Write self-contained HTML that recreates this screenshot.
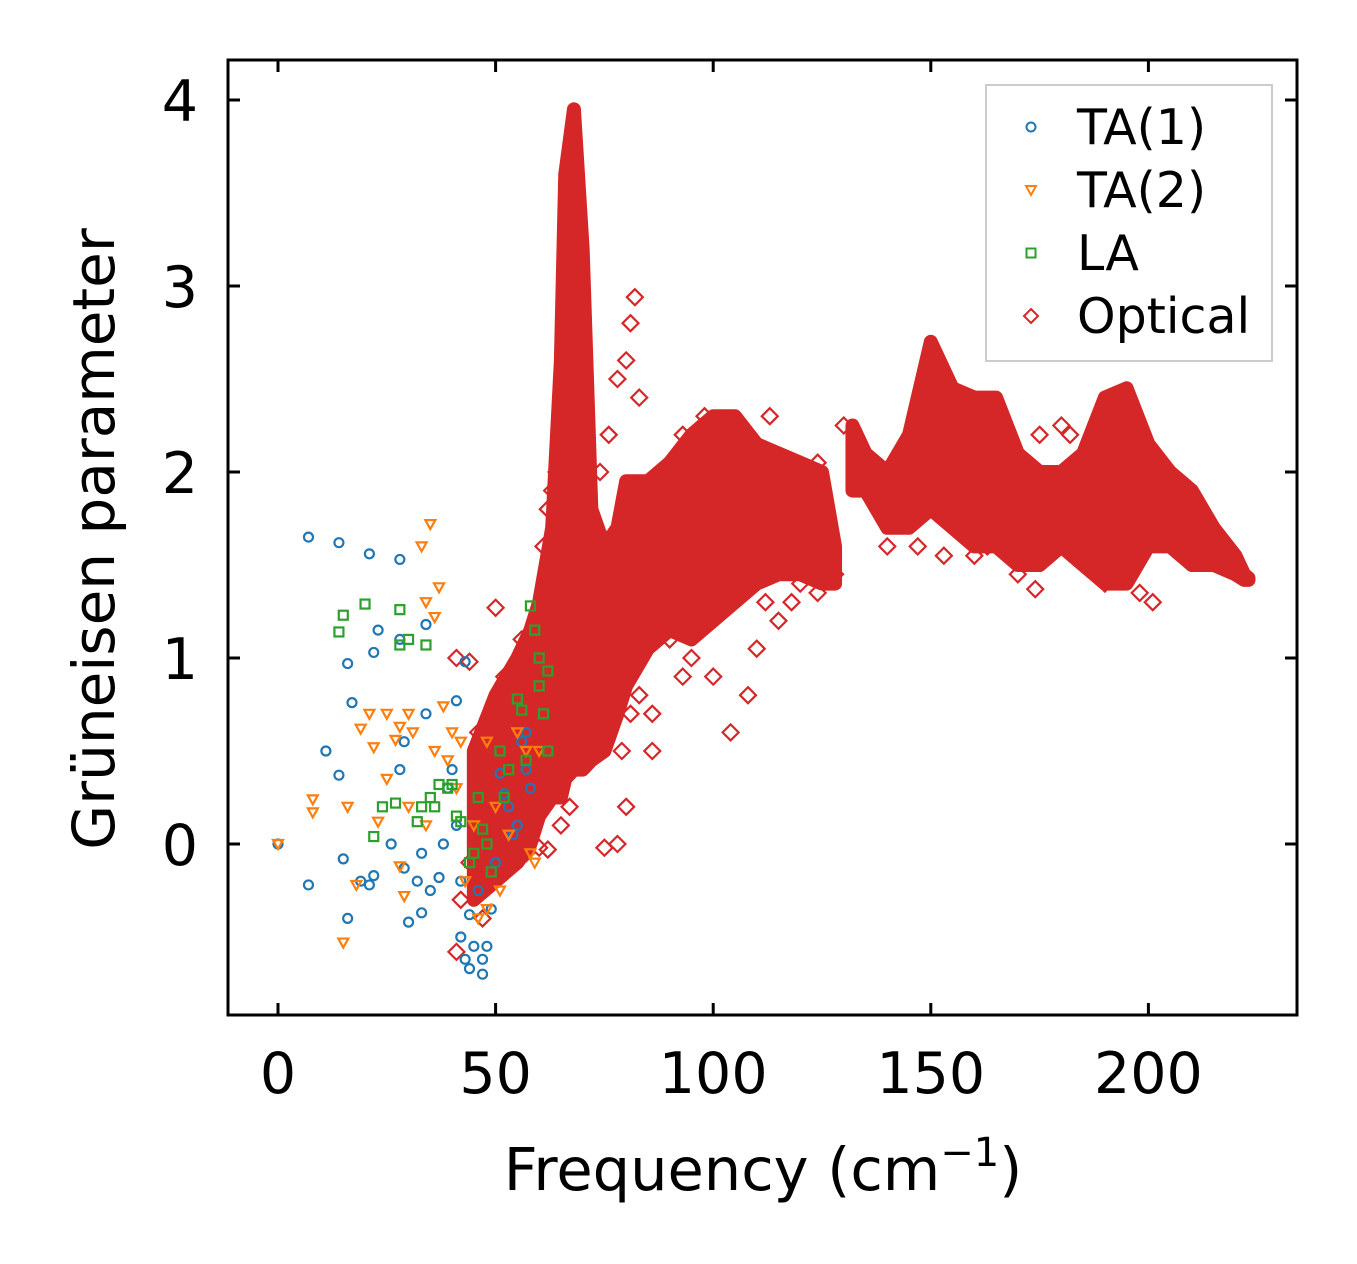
<!DOCTYPE html>
<html><head><meta charset="utf-8"><style>
body{margin:0;background:#fff;}
svg{display:block;font-family:"DejaVu Sans","Liberation Sans",sans-serif;}
</style></head><body>
<svg id="chart" width="1357" height="1264" viewBox="0 0 1357 1264">
<g id="marks"></g>
<rect x="228" y="60" width="1069" height="955" fill="none" stroke="#000" stroke-width="3"/>
<g id="axes"></g>
<text x="763" y="1190" font-size="59" text-anchor="middle">Frequency (cm<tspan dy="-24" font-size="40">−1</tspan><tspan dy="24">)</tspan></text>
<text transform="translate(114,539) rotate(-90)" font-size="58" text-anchor="middle">Grüneisen parameter</text>
<g>
<rect x="986" y="85" width="286" height="276" fill="#fff" stroke="#ccc" stroke-width="2"/>
<circle cx="1031" cy="127" r="4.5" fill="none" stroke="#1f77b4" stroke-width="2"/>
<text x="1077" y="144" font-size="49">TA(1)</text>
<path d="M1026,186 L1036,186 L1031,195 Z" fill="none" stroke="#ff7f0e" stroke-width="2"/>
<text x="1077" y="207" font-size="49">TA(2)</text>
<rect x="1026.5" y="248.5" width="9" height="9" fill="none" stroke="#2ca02c" stroke-width="2"/>
<text x="1077" y="270" font-size="49">LA</text>
<path d="M1031,309 L1038,316 L1031,323 L1024,316 Z" fill="none" stroke="#d62728" stroke-width="2"/>
<text x="1077" y="333" font-size="49">Optical</text>
</g>
</svg>
<script>
const xTicks=[0,50,100,150,200];
const yTicks=[0,1,2,3,4];
// dense optical band envelope (two segments)
const bandSeg=[0,0,0,0,0,0,0,0,0,0,0,0,0,0,0,0,0,0,0,0,0,0,0,0,1,1,1,1,1,1,1,1,1,1,1,1,1,1,1,1,1,1,1,1,1];
const bandFreq=[45,50,55,58,60,63,65,66,68,70,72,75,78,80,85,90,95,100,105,110,115,120,125,128,132,135,140,145,150,155,160,165,170,175,180,185,190,195,200,205,210,215,220,222,223];
const bandUpper=[0.5,0.8,1.0,1.15,1.3,1.7,2.6,3.6,3.95,3.2,1.8,1.6,1.7,1.95,1.95,2.05,2.2,2.3,2.3,2.15,2.1,2.05,2.0,1.6,2.25,2.1,2.0,2.2,2.7,2.45,2.4,2.4,2.1,2.0,2.0,2.1,2.4,2.45,2.15,2.0,1.9,1.7,1.55,1.45,1.43];
const bandLower=[-0.3,-0.2,-0.1,0.0,0.15,0.25,0.25,0.35,0.4,0.4,0.45,0.5,0.7,0.85,1.05,1.15,1.1,1.2,1.3,1.4,1.45,1.45,1.4,1.4,1.9,1.9,1.7,1.7,1.8,1.7,1.6,1.6,1.5,1.5,1.6,1.5,1.4,1.4,1.6,1.6,1.5,1.5,1.45,1.42,1.42];
const optX=[41,42,44,41,46,50,53,57,60,62,65,67,63,62,61,80,78,75,79,81,83,86,86,82,81,80,78,83,76,74,90,93,95,100,104,108,110,112,115,118,120,124,140,147,153,160,163,165,174,170,175,180,182,190,195,198,201,195,205,93,98,130,128,88,95,113,124,48,52,56,44,47,54,59,64,69];
const optY=[-0.58,-0.3,0.98,1.0,0.6,1.27,0.03,-0.05,-0.02,-0.03,0.1,0.2,1.9,1.8,1.6,0.2,0.0,-0.02,0.5,0.7,0.8,0.5,0.7,2.94,2.8,2.6,2.5,2.4,2.2,2.0,1.1,0.9,1.0,0.9,0.6,0.8,1.05,1.3,1.2,1.3,1.4,1.35,1.6,1.6,1.55,1.55,1.6,1.7,1.37,1.45,2.2,2.25,2.2,1.4,1.45,1.35,1.3,2.0,1.8,2.2,2.3,2.25,1.45,1.5,2.15,2.3,2.05,0.5,0.9,1.1,-0.1,-0.4,0.2,0.5,2.0,2.3];
const ta1X=[0,7,7,14,15,16,14,11,16,17,19,21,21,22,23,22,26,28,28,28,29,29,30,32,33,34,34,35,37,40,41,43,42,43,44,45,47,48,49,50,51,53,54,56,57,58,42,44,46,47,52,55,57,39,41,38,33];
const ta1Y=[0,1.65,-0.22,1.62,-0.08,-0.4,0.37,0.5,0.97,0.76,-0.2,-0.22,1.56,1.03,1.15,-0.17,0,1.53,1.1,0.4,0.55,-0.13,-0.42,-0.2,-0.37,1.18,0.7,-0.25,-0.18,0.4,0.77,0.98,-0.5,-0.62,-0.67,-0.55,-0.7,-0.55,-0.35,-0.1,0.38,0.2,0.05,0.55,0.4,0.3,-0.2,-0.38,-0.25,-0.62,0.27,0.1,0.6,0.3,0.1,0,-0.05];
const ta2X=[0,8,8,15,16,18,19,21,22,23,25,25,27,28,28,29,30,31,33,35,34,36,37,36,38,39,41,42,43,45,46,48,48,50,51,53,55,57,58,59,60,30,34,40];
const ta2Y=[0,0.24,0.17,-0.53,0.2,-0.22,0.62,0.7,0.52,0.12,0.7,0.35,0.56,0.63,-0.12,-0.28,0.7,0.6,1.6,1.72,1.3,1.22,1.38,0.5,0.74,0.45,0.3,0.55,-0.2,0.1,-0.4,0.55,-0.35,0.2,-0.25,0.05,0.6,0.5,-0.05,-0.1,0.5,0.2,0.1,0.6];
const laX=[14,15,20,22,24,27,28,28,30,32,34,35,36,37,39,40,41,42,44,46,47,48,49,51,52,53,55,56,57,58,59,60,60,61,62,62,33,45];
const laY=[1.14,1.23,1.29,0.04,0.2,0.22,1.07,1.26,1.1,0.12,1.07,0.25,0.2,0.32,0.3,0.32,0.15,0.12,-0.1,0.25,0.08,0.0,-0.15,0.5,0.25,0.4,0.78,0.72,0.45,1.28,1.15,1.0,0.85,0.7,0.93,0.5,0.2,-0.05];

const NS='http://www.w3.org/2000/svg';
const xs=v=>278+v*4.352;
const ys=v=>844-v*186;
const marks=document.getElementById('marks');
const axes=document.getElementById('axes');
function mk(tag,attrs,parent){const e=document.createElementNS(NS,tag);for(const k in attrs)e.setAttribute(k,attrs[k]);parent.appendChild(e);return e;}

[0,1].forEach(s=>{
  const idx=bandFreq.map((f,i)=>i).filter(i=>bandSeg[i]===s);
  const up=idx.map(i=>xs(bandFreq[i])+','+ys(bandUpper[i]));
  const lo=idx.slice().reverse().map(i=>xs(bandFreq[i])+','+ys(bandLower[i]));
  const p=mk('polygon',{points:up.concat(lo).join(' '),fill:'#d62728',stroke:'#d62728','stroke-width':14,'stroke-linejoin':'round'},marks);
  
  
});
optX.forEach((x,i)=>{
  const cx=xs(x),cy=ys(optY[i]);
  const p=mk('path',{d:`M${cx},${cy-8} L${cx+8},${cy} L${cx},${cy+8} L${cx-8},${cy} Z`,fill:'none',stroke:'#d62728','stroke-width':2.2},marks);
  
  
});
ta1X.forEach((x,i)=>{
  const c=mk('circle',{cx:xs(x),cy:ys(ta1Y[i]),r:4.5,fill:'none',stroke:'#1f77b4','stroke-width':2.2},marks);
  
  
});
ta2X.forEach((x,i)=>{
  const cx=xs(x),cy=ys(ta2Y[i]);
  const p=mk('path',{d:`M${cx-5},${cy-4} L${cx+5},${cy-4} L${cx},${cy+5} Z`,fill:'none',stroke:'#ff7f0e','stroke-width':2.2},marks);
  
  
});
laX.forEach((x,i)=>{
  const r=mk('rect',{x:xs(x)-4.5,y:ys(laY[i])-4.5,width:9,height:9,fill:'none',stroke:'#2ca02c','stroke-width':2.2},marks);
  
  
});
xTicks.forEach(t=>{
  const x=xs(t);
  const a=mk('line',{x1:x,x2:x,y1:1015,y2:1003,stroke:'#000','stroke-width':3},axes);
  
  
  const b=mk('line',{x1:x,x2:x,y1:60,y2:72,stroke:'#000','stroke-width':3},axes);
  
  
  const l=mk('text',{x:x,y:1093,'font-size':57,'text-anchor':'middle'},axes);
  l.textContent=t;
  
  
});
yTicks.forEach(t=>{
  const y=ys(t);
  const a=mk('line',{x1:228,x2:240,y1:y,y2:y,stroke:'#000','stroke-width':3},axes);
  
  
  const b=mk('line',{x1:1297,x2:1285,y1:y,y2:y,stroke:'#000','stroke-width':3},axes);
  
  
  const l=mk('text',{x:198,y:y+21,'font-size':57,'text-anchor':'end'},axes);
  l.textContent=t;
  
  
});
</script>
</body></html>
